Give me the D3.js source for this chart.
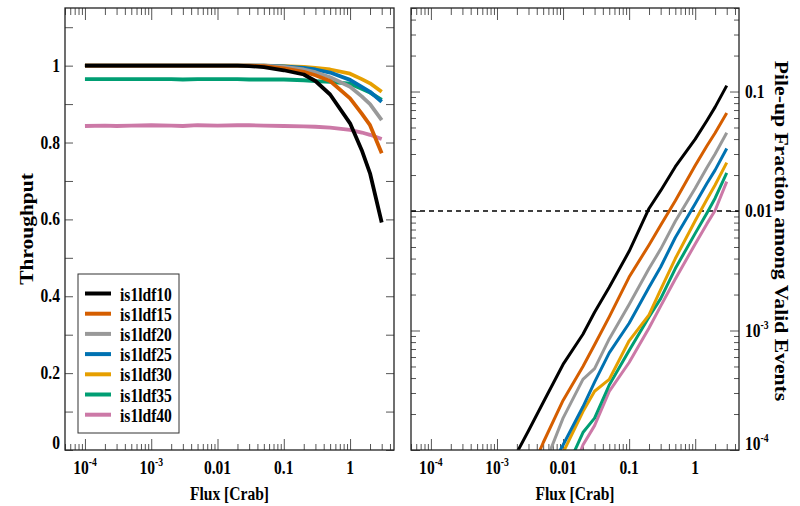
<!DOCTYPE html>
<html>
<head>
<meta charset="utf-8">
<script src="https://cdn.jsdelivr.net/npm/d3@7"></script>
<style>
  body { margin: 0; background: #fff; }
  svg text { font-family: "Liberation Serif", "Times New Roman", serif; font-weight: bold; fill: #000; }
</style>
</head>
<body>
<svg id="chart" width="800" height="506"></svg>
<script>
// data
var flux = [1e-4, 2e-4, 3e-4, 5e-4, 1e-3, 2e-3, 3e-3, 5e-3, 0.01, 0.02, 0.03, 0.05, 0.1, 0.2, 0.3, 0.5, 1, 1.5, 2, 3]
var seriesNames = ['is1ldf10', 'is1ldf15', 'is1ldf20', 'is1ldf25', 'is1ldf30', 'is1ldf35', 'is1ldf40']
var seriesColors = ['#000000', '#D55E00', '#999999', '#0072B2', '#E69F00', '#009E73', '#CC79A7']

var throughput10 = [1, 1, 1, 1, 1, 1, 1, 1, 1, 1, 0.999, 0.996, 0.988, 0.977, 0.96, 0.925, 0.85, 0.78, 0.72, 0.592]
var throughput15 = [1, 1, 1, 1, 1, 1, 1, 1, 1, 1, 1, 0.999, 0.993, 0.984, 0.975, 0.96, 0.915, 0.875, 0.845, 0.772]
var throughput20 = [1, 1, 1, 1, 1, 1, 1, 1, 1, 1, 1, 1, 0.997, 0.99, 0.983, 0.97, 0.945, 0.92, 0.9, 0.858]
var throughput25 = [1, 1, 1, 1, 1, 1, 1, 1, 1, 1, 1, 1, 0.998, 0.994, 0.99, 0.982, 0.963, 0.945, 0.932, 0.906]
var throughput30 = [1, 1, 1, 1, 1, 1, 1, 1, 1, 1, 1, 1, 0.999, 0.997, 0.994, 0.99, 0.979, 0.965, 0.954, 0.932]
var throughput35 = [0.965, 0.965, 0.965, 0.965, 0.965, 0.965, 0.964, 0.965, 0.965, 0.965, 0.964, 0.964, 0.964, 0.962, 0.96, 0.958, 0.953, 0.94, 0.93, 0.911]
var throughput40 = [0.843, 0.844, 0.843, 0.844, 0.845, 0.844, 0.843, 0.845, 0.844, 0.845, 0.845, 0.844, 0.843, 0.842, 0.841, 0.839, 0.833, 0.826, 0.82, 0.809]

var pileup10 = [null, null, null, null, null, 9.5e-5, 1.45e-4, 2.5e-4, 5.2e-4, 9.3e-4, 1.42e-3, 2.3e-3, 4.6e-3, 0.0105, 0.0148, 0.0235, 0.040, 0.057, 0.074, 0.112]
var pileup15 = [null, null, null, null, null, null, 6e-5, 1.15e-4, 2.6e-4, 5e-4, 7.6e-4, 1.3e-3, 2.8e-3, 5.2e-3, 7.6e-3, 0.0122, 0.024, 0.035, 0.045, 0.066]
var pileup20 = [null, null, null, null, null, null, null, 7e-5, 1.85e-4, 3.9e-4, 4.8e-4, 8.5e-4, 1.65e-3, 3.3e-3, 4.8e-3, 8.2e-3, 0.0155, 0.023, 0.03, 0.0452]
var pileup25 = [null, null, null, null, null, null, null, 5.5e-5, 1.1e-4, 2.3e-4, 3.7e-4, 6.5e-4, 1.15e-3, 2.3e-3, 3.4e-3, 6e-3, 0.0115, 0.017, 0.022, 0.0333]
var pileup30 = [null, null, null, null, null, null, null, 4.5e-5, 9.5e-5, 2.1e-4, 3.1e-4, 3.9e-4, 8.2e-4, 1.35e-3, 2.2e-3, 4e-3, 8.3e-3, 0.0125, 0.0165, 0.0254]
var pileup35 = [null, null, null, null, null, null, null, null, 6e-5, 1.4e-4, 1.85e-4, 3.5e-4, 6.8e-4, 1.3e-3, 1.85e-3, 3.3e-3, 6.5e-3, 9.6e-3, 0.0128, 0.0209]
var pileup40 = [null, null, null, null, null, null, null, null, 4e-5, 1.1e-4, 1.6e-4, 3.1e-4, 5.4e-4, 1.05e-3, 1.6e-3, 2.7e-3, 5.3e-3, 7.8e-3, 0.0101, 0.0176]

var xMajor = [1e-4, 1e-3, 0.01, 0.1, 1]
var xMajorLabels = [['10', '-4'], ['10', '-3'], ['0.01', ''], ['0.1', ''], ['1', '']]
var yLeftMajor = [0, 0.2, 0.4, 0.6, 0.8, 1]
var yLeftLabels = ['0', '0.2', '0.4', '0.6', '0.8', '1']
var yRightMajor = [1e-4, 1e-3, 0.01, 0.1]
var yRightLabels = [['10', '-4'], ['10', '-3'], ['0.01', ''], ['0.1', '']]
var pileLimit = 0.01

var throughputs = [throughput10, throughput15, throughput20, throughput25, throughput30, throughput35, throughput40]
var pileups = [pileup10, pileup15, pileup20, pileup25, pileup30, pileup35, pileup40]

var svg = d3.select('#chart')
var squish = 0.82
var topY = 8, bottomY = 450
var leftL = 65, leftR = 394, rightL = 411, rightR = 739

var xLeft = d3.scaleLog().domain([5e-5, 4.6]).range([leftL, leftR])
var xRight = d3.scaleLog().domain([5e-5, 4.6]).range([rightL, rightR])
var yLeft = d3.scaleLinear().domain([0, 1.15]).range([bottomY, topY])
var yRight = d3.scaleLog().domain([1e-4, 0.5]).range([bottomY, topY])

// minor ticks for log axes
var xMinor = []
for (var e = -5; e <= 0; e++) {
    for (var m = 2; m <= 9; m++) {
        var v = m * Math.pow(10, e)
        if (v >= 5e-5 && v <= 4.6) xMinor.push(v)
    }
}
var yRightMinor = []
for (var e2 = -4; e2 <= -1; e2++) {
    for (var m2 = 2; m2 <= 9; m2++) {
        var v2 = m2 * Math.pow(10, e2)
        if (v2 <= 0.5) yRightMinor.push(v2)
    }
}
var yLeftMinor = [0.1, 0.3, 0.5, 0.7, 0.9, 1.1]

function tickAxis (axis, tx, ty, values, size) {
    var g = svg.append('g')
        .attr('class', 'axis')
        .attr('transform', `translate(${tx},${ty})`)
        .call(axis.tickValues(values).tickSize(size).tickFormat(''))
    g.select('.domain').remove()
    g.selectAll('line').attr('stroke', '#555').attr('stroke-width', 1)
}

function label (x, y, parts, size, anchor) {
    var t = svg.append('text')
        .attr('transform', `translate(${x},${y}) scale(${squish},1)`)
        .attr('font-size', size + 'px')
        .attr('text-anchor', anchor)
    t.append('tspan').text(parts[0])
    if (parts[1]) {
        t.append('tspan').attr('font-size', (size * 0.62) + 'px').attr('dy', -8).text(parts[1])
    }
    return t
}

function drawPanel (x, y, left, right, isLog) {
    // x ticks (bottom + top, inward)
    tickAxis(d3.axisBottom(x), 0, bottomY, xMajor, -11)
    tickAxis(d3.axisBottom(x), 0, bottomY, xMinor, -6)
    tickAxis(d3.axisTop(x), 0, topY, xMajor, -12)
    tickAxis(d3.axisTop(x), 0, topY, xMinor, -7)
    if (isLog) {
        tickAxis(d3.axisLeft(y), left, 0, yRightMajor, -9)
        tickAxis(d3.axisLeft(y), left, 0, yRightMinor, -5)
        tickAxis(d3.axisRight(y), right, 0, yRightMajor, -9)
        tickAxis(d3.axisRight(y), right, 0, yRightMinor, -5)
    } else {
        tickAxis(d3.axisLeft(y), left, 0, yLeftMajor, -8)
        tickAxis(d3.axisLeft(y), left, 0, yLeftMinor, -8)
        tickAxis(d3.axisRight(y), right, 0, yLeftMajor, -8)
        tickAxis(d3.axisRight(y), right, 0, yLeftMinor, -8)
    }
    for (var i = 0; i < xMajor.length; i++) {
        label(x(xMajor[i]), 474, xMajorLabels[i], 19, 'middle')
    }
    label((left + right) / 2, 500, ['Flux [Crab]', ''], 19, 'middle')
}

drawPanel(xLeft, yLeft, leftL, leftR, false)
drawPanel(xRight, yRight, rightL, rightR, true)

// left y labels
for (var i = 0; i < yLeftMajor.length; i++) {
    label(60, yLeft(yLeftMajor[i]) + 6 - (yLeftMajor[i] == 0 ? 7 : 0), [yLeftLabels[i], ''], 19, 'end')
}
// right y labels
for (var j = 0; j < yRightMajor.length; j++) {
    label(745, yRight(yRightMajor[j]) + 6 - (j == 0 ? 6 : 0), yRightLabels[j], 19, 'start')
}

svg.append('text')
    .attr('transform', 'translate(33,229) rotate(-90) scale(1.13,1)')
    .attr('font-size', '19px')
    .attr('text-anchor', 'middle')
    .text('Throughput')
svg.append('text')
    .attr('transform', 'translate(775,231) rotate(90) scale(1.14,1)')
    .attr('font-size', '19px')
    .attr('text-anchor', 'middle')
    .text('Pile-up Fraction among Valid Events')

// clip paths
var defs = svg.append('defs')
defs.append('clipPath').attr('id', 'clipL').append('rect')
    .attr('x', leftL).attr('y', topY).attr('width', leftR - leftL).attr('height', bottomY - topY)
defs.append('clipPath').attr('id', 'clipR').append('rect')
    .attr('x', rightL).attr('y', topY).attr('width', rightR - rightL).attr('height', bottomY - topY)

var lineL = d3.line()
    .x(function (d, i) { return xLeft(flux[i]) })
    .y(function (d) { return yLeft(d) })
var lineR = d3.line()
    .defined(function (d) { return d != null })
    .x(function (d, i) { return xRight(flux[i]) })
    .y(function (d) { return yRight(d) })

var gL = svg.append('g').attr('clip-path', 'url(#clipL)')
var gR = svg.append('g').attr('clip-path', 'url(#clipR)')

// dashed limit line
gR.append('line')
    .attr('x1', rightL).attr('x2', rightR)
    .attr('y1', yRight(pileLimit)).attr('y2', yRight(pileLimit))
    .attr('stroke', '#000').attr('stroke-width', 1.3).attr('stroke-dasharray', '5,4')

for (var k = seriesNames.length - 1; k >= 0; k--) {
    gL.append('path')
        .datum(throughputs[k])
        .attr('d', lineL)
        .attr('fill', 'none')
        .attr('stroke', seriesColors[k])
        .attr('stroke-width', 3.8)
        .attr('stroke-linejoin', 'round')
    gR.append('path')
        .datum(pileups[k])
        .attr('d', lineR)
        .attr('fill', 'none')
        .attr('stroke', seriesColors[k])
        .attr('stroke-width', 3)
        .attr('stroke-linejoin', 'round')
}

// frames
svg.append('rect').attr('x', leftL).attr('y', topY).attr('width', leftR - leftL).attr('height', bottomY - topY)
    .attr('fill', 'none').attr('stroke', '#222').attr('stroke-width', 1.3)
svg.append('rect').attr('x', rightL).attr('y', topY).attr('width', rightR - rightL).attr('height', bottomY - topY)
    .attr('fill', 'none').attr('stroke', '#222').attr('stroke-width', 1.3)

// legend
var legend = svg.append('g')
legend.append('rect')
    .attr('x', 78).attr('y', 274).attr('width', 101).attr('height', 159)
    .attr('fill', '#fff').attr('stroke', '#333').attr('stroke-width', 1)
for (var n = 0; n < seriesNames.length; n++) {
    var ly = 293.5 + n * 20.2
    legend.append('line')
        .attr('x1', 85).attr('x2', 111).attr('y1', ly).attr('y2', ly)
        .attr('stroke', seriesColors[n]).attr('stroke-width', 4)
    label(120, ly + 7, [seriesNames[n], ''], 19, 'start')
}
</script>
</body>
</html>
